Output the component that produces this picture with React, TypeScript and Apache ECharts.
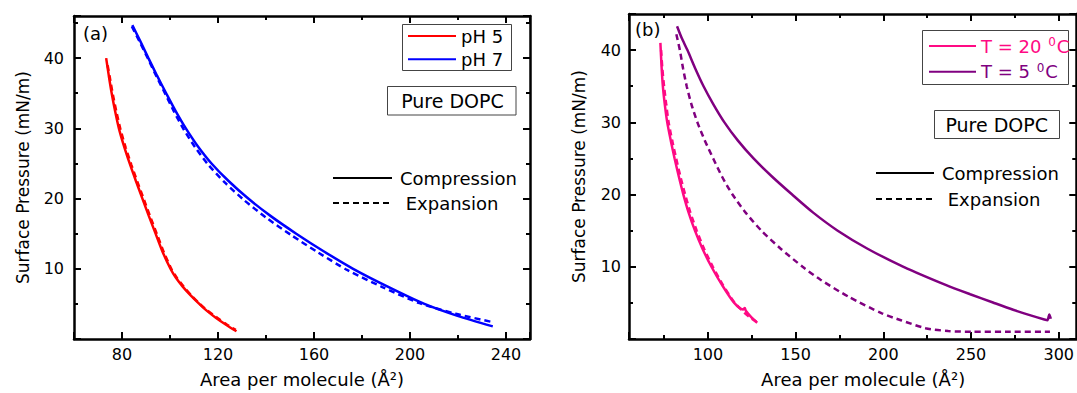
import React, { useEffect, useRef } from 'react';
import * as echarts from 'echarts';

// ---- Data (a): area per molecule (Å²) vs surface pressure (mN/m) ----
const pH5Compression: [number, number][] = [
  [73.4, 40], [74.5, 37.5], [75.7, 35], [77.1, 32.5], [78.7, 30], [80.8, 27.5], [83.2, 25],
  [85.8, 22.5], [88.5, 20], [91.2, 17.5], [94, 15], [96.8, 12.5], [100.2, 10], [102.4, 8.75],
  [105.2, 7.5], [108.5, 6.25], [112.2, 5], [115.4, 4], [119.2, 3], [123.5, 2], [127.7, 1.1],
];
const pH5Expansion: [number, number][] = [
  [74, 39], [74.9, 37.3], [76.2, 34.8], [77.7, 32.3], [79.4, 29.8], [81.5, 27.3], [83.9, 24.8],
  [86.5, 22.3], [89.2, 19.8], [91.9, 17.3], [94.7, 14.8], [97.5, 12.3], [100.7, 9.9],
  [102.9, 8.7], [105.6, 7.5], [108.8, 6.25], [112.4, 5], [115.6, 4.05], [119.4, 3.1],
  [123.5, 2.1], [127.4, 1.3],
];
const pH7Compression: [number, number][] = [
  [84.3, 44.7], [87.5, 42.5], [91, 40], [94.6, 37.5], [98.4, 35], [102.3, 32.5], [106.6, 30],
  [111.5, 27.5], [117.3, 25], [124.4, 22.5], [132.6, 20], [142, 17.5], [152.6, 15], [164, 12.5],
  [176.3, 10], [190.5, 7.5], [206, 5], [219.8, 3.3], [234.5, 1.8],
];
const pH7Expansion: [number, number][] = [
  [84.1, 44.5], [87.4, 42.3], [91, 39.8], [94.5, 37.3], [98.2, 34.8], [101.8, 32.3], [105.8, 29.8],
  [110.5, 27.3], [116, 24.8], [122.8, 22.3], [130.8, 19.8], [140, 17.3], [150.5, 14.8],
  [161.8, 12.3], [174, 9.8], [188.5, 7.4], [204, 5.1], [219, 3.6], [234.5, 2.4],
];

// ---- Data (b) ----
const t20Compression: [number, number][] = [
  [72.9, 41], [73.5, 38], [74.3, 35], [75.4, 32.5], [76.8, 30], [78.8, 27.5], [81, 25],
  [83.4, 22.5], [86, 20], [89, 17.5], [92.6, 15], [96.9, 12.5], [102, 10], [108, 7.5],
  [115, 5], [120, 4.1], [121, 4.3], [121.6, 3.9], [124.8, 3], [128.1, 2.25],
];
const t20Expansion: [number, number][] = [
  [73.3, 40], [74, 37.5], [75, 35], [76.2, 32.5], [77.6, 30], [79.6, 27.5], [81.9, 25],
  [84.3, 22.5], [87, 20], [90, 17.5], [93.6, 15], [97.8, 12.5], [102.8, 10], [108.5, 7.5],
  [115.3, 5], [121, 3.6], [125, 2.8], [127.6, 2.4],
];
const t5Compression: [number, number][] = [
  [82.4, 43.3], [85, 41.7], [88.3, 40], [92.7, 37.5], [97.5, 35], [103.1, 32.5], [109.4, 30],
  [117, 27.5], [126, 25], [136.5, 22.5], [148, 20], [160, 17.5], [174, 15], [191, 12.5],
  [211.5, 10], [235.5, 7.5], [249.5, 6.2], [262.5, 5.05], [274, 4.05], [283.5, 3.3],
  [291.8, 2.7], [293.6, 2.6], [294.6, 3.4], [295.5, 2.8],
];
const t5Expansion: [number, number][] = [
  [82, 42.2], [84, 40], [85.8, 37.5], [87.9, 35], [90.6, 32.5], [94, 30], [98.2, 27.5],
  [103, 25], [108, 22.5], [114, 20], [121.5, 17.5], [130.5, 15], [141.5, 12.5], [154, 10],
  [164.2, 8.2], [180.2, 5.85], [199.2, 3.55], [210, 2.6], [224, 1.5], [237, 1.1], [250, 1.0],
  [270, 1.0], [295, 1.0],
];

const xTitle = 'Area per molecule (Å²)';
const yTitle = 'Surface Pressure (mN/m)';

const FONT = 'DejaVu Sans';
const RED = '#ff0000';
const BLUE = '#0000ff';
const PINK = '#ff0a84';
const PURPLE = '#800080';
const DASH = [6, 4];

function valueAxis(opts: any) {
  const { gridIndex, min, max, step, position, labels, name, nameGap, namePad, nameSize, margin } = opts;
  return {
    type: 'value',
    gridIndex,
    position,
    min,
    max,
    minInterval: step,
    maxInterval: step,
    splitNumber: 5,
    name: name || '',
    nameLocation: 'middle',
    nameGap: nameGap || 0,
    nameTextStyle: {
      fontFamily: FONT,
      fontSize: nameSize || 18,
      color: '#000',
      padding: namePad || 0,
    },
    axisLine: { show: true, onZero: false, lineStyle: { color: '#000', width: 2.5 } },
    axisTick: { show: true, inside: true, length: 7, lineStyle: { color: '#000', width: 2 } },
    minorTick: { show: true, splitNumber: 2, length: 4, lineStyle: { color: '#000', width: 2 } },
    splitLine: { show: false },
    minorSplitLine: { show: false },
    axisLabel: {
      show: labels,
      showMinLabel: false,
      showMaxLabel: false,
      margin: margin || 8,
      fontFamily: FONT,
      fontSize: 16,
      color: '#000',
    },
  };
}

function line(name: string, data: [number, number][], color: string, dashed: boolean, g: number) {
  return {
    type: 'line',
    name,
    data,
    xAxisIndex: g * 2,
    yAxisIndex: g * 2,
    symbol: 'none',
    showSymbol: false,
    smooth: 0.25,
    lineStyle: { color, width: 2.5, type: dashed ? DASH : 'solid' },
    itemStyle: { color },
    z: 3,
  };
}

export default function App() {
  const ref = useRef<HTMLDivElement>(null);

  useEffect(() => {
    const chart = echarts.init(ref.current!, null, { renderer: 'svg' });
    const legendText = { fontFamily: FONT, fontSize: 18, color: '#000' };
    const legendBase = {
      orient: 'vertical',
      padding: 0,
      itemHeight: 14,
      selectedMode: false,
      itemStyle: { opacity: 0 },
    };
    const option: any = {
      animation: false,
      backgroundColor: '#fff',
      textStyle: { fontFamily: FONT },
      grid: [
        { left: 74, top: 16, width: 456, height: 323 },
        { left: 629, top: 14, width: 450, height: 325 },
      ],
      xAxis: [
        valueAxis({ gridIndex: 0, min: 60, max: 250, step: 40, position: 'bottom', labels: true, name: xTitle, nameGap: 31, margin: 7 }),
        valueAxis({ gridIndex: 0, min: 60, max: 250, step: 40, position: 'top', labels: false }),
        valueAxis({ gridIndex: 1, min: 55, max: 310, step: 50, position: 'bottom', labels: true, name: xTitle, nameGap: 31, namePad: [0, 0, 0, 21], margin: 7 }),
        valueAxis({ gridIndex: 1, min: 55, max: 310, step: 50, position: 'top', labels: false }),
      ],
      yAxis: [
        valueAxis({ gridIndex: 0, min: 0, max: 46, step: 10, position: 'left', labels: true, name: yTitle, nameGap: 43, nameSize: 17, margin: 10 }),
        valueAxis({ gridIndex: 0, min: 0, max: 46, step: 10, position: 'right', labels: false }),
        valueAxis({ gridIndex: 1, min: 0, max: 45, step: 10, position: 'left', labels: true, name: yTitle, nameGap: 42, nameSize: 17, margin: 8 }),
        valueAxis({ gridIndex: 1, min: 0, max: 45, step: 10, position: 'right', labels: false }),
      ],
      legend: [
        {
          ...legendBase,
          data: ['pH 5', 'pH 7'],
          left: 407,
          top: 27,
          itemWidth: 48,
          itemGap: 5.3,
          textStyle: legendText,
        },
        {
          ...legendBase,
          data: ['T = 20 °C', 'T = 5 °C'],
          left: 928,
          top: 36,
          itemWidth: 47,
          itemGap: 6.7,
          formatter: (n: string) =>
            n === 'T = 20 °C' ? '{p|T = 20 }{ps|0}{p|C}' : '{q|T = 5 }{qs|0}{q|C}',
          textStyle: {
            fontFamily: FONT,
            fontSize: 18,
            rich: {
              p: { color: PINK, fontFamily: FONT, fontSize: 18, lineHeight: 20 },
              ps: { color: PINK, fontFamily: FONT, fontSize: 12, lineHeight: 10, verticalAlign: 'top', padding: [0, 1, 0, 1] },
              q: { color: PURPLE, fontFamily: FONT, fontSize: 18, lineHeight: 20 },
              qs: { color: PURPLE, fontFamily: FONT, fontSize: 12, lineHeight: 10, verticalAlign: 'top', padding: [0, 1, 0, 1] },
            },
          },
        },
        {
          ...legendBase,
          data: ['Compression', ' Expansion'],
          left: 332,
          top: 169,
          itemWidth: 59,
          itemGap: 7,
          textStyle: { ...legendText, padding: [0, 0, 0, 3] },
        },
        {
          ...legendBase,
          data: ['Compression', ' Expansion'],
          left: 875,
          top: 164,
          itemWidth: 58,
          itemGap: 8,
          textStyle: { ...legendText, padding: [0, 0, 0, 3] },
        },
      ],
      graphic: [
        { type: 'rect', shape: { x: 402.5, y: 24.5, width: 109, height: 46 }, style: { fill: 'none', stroke: '#444', lineWidth: 1 } },
        { type: 'rect', shape: { x: 387.5, y: 86.5, width: 128.5, height: 28.5 }, style: { fill: 'none', stroke: '#444', lineWidth: 1 } },
        { type: 'text', x: 452.5, y: 101, style: { text: 'Pure DOPC', fontFamily: FONT, fontSize: 19, fill: '#000', align: 'center', verticalAlign: 'middle' } },
        { type: 'rect', shape: { x: 922.5, y: 30.5, width: 146, height: 54 }, style: { fill: 'none', stroke: '#444', lineWidth: 1 } },
        { type: 'rect', shape: { x: 934.5, y: 110.5, width: 125, height: 28 }, style: { fill: 'none', stroke: '#444', lineWidth: 1 } },
        { type: 'text', x: 996.7, y: 124.5, style: { text: 'Pure DOPC', fontFamily: FONT, fontSize: 19, fill: '#000', align: 'center', verticalAlign: 'middle' } },
        { type: 'text', x: 83, y: 33.5, style: { text: '(a)', fontFamily: FONT, fontSize: 18, fill: '#000', align: 'left', verticalAlign: 'middle' } },
        { type: 'text', x: 635, y: 29.5, style: { text: '(b)', fontFamily: FONT, fontSize: 18, fill: '#000', align: 'left', verticalAlign: 'middle' } },
      ],
      series: [
        line('pH 5', pH5Compression, RED, false, 0),
        line('pH 5 expansion', pH5Expansion, RED, true, 0),
        line('pH 7', pH7Compression, BLUE, false, 0),
        line('pH 7 expansion', pH7Expansion, BLUE, true, 0),
        line('T = 20 °C', t20Compression, PINK, false, 1),
        line('T = 20 °C expansion', t20Expansion, PINK, true, 1),
        line('T = 5 °C', t5Compression, PURPLE, false, 1),
        line('T = 5 °C expansion', t5Expansion, PURPLE, true, 1),
        line('Compression', [], '#000', false, 0),
        line(' Expansion', [], '#000', true, 0),
      ],
    };
    chart.setOption(option);
    return () => chart.dispose();
  }, []);

  return (
    <div
      ref={ref}
      style={{ position: 'fixed', left: 0, top: 0, width: 1077, height: 393 }}
    />
  );
}
